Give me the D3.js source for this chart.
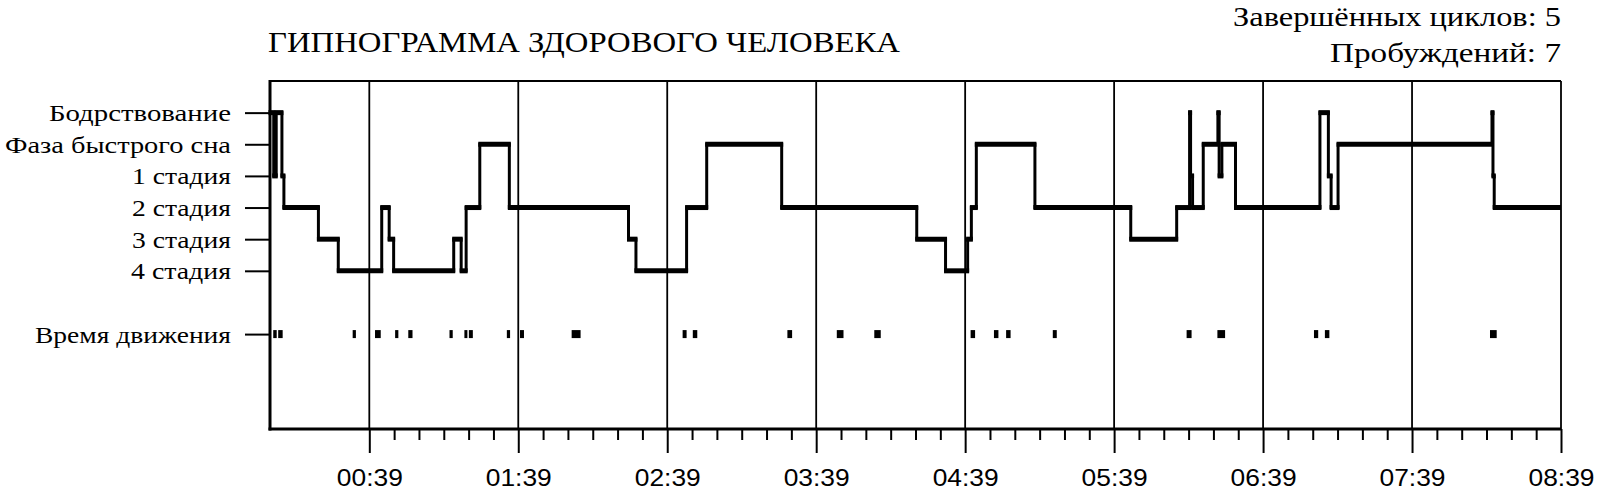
<!DOCTYPE html>
<html><head><meta charset="utf-8">
<script src="https://cdn.jsdelivr.net/npm/d3@7"></script>
<style>html,body{margin:0;padding:0;background:#fff;} svg{display:block}</style>
</head><body>
<svg id="chart" width="1600" height="491"></svg>
<script>
// ---------- DATA ----------
const chartTitle = "ГИПНОГРАММА ЗДОРОВОГО ЧЕЛОВЕКА";
const infoLines = ["Завершённых циклов: 5", "Пробуждений: 7"];
const stageLabels = ["Бодрствование", "Фаза быстрого сна", "1 стадия", "2 стадия", "3 стадия", "4 стадия", "Время движения"];
const stageLevels = [0, 1, 2, 3, 4, 5, 7];
// minutes counted from 23:59
const timeTickMinutes = [40, 100, 160, 220, 280, 340, 400, 460, 520];
const timeTickLabels = ["00:39", "01:39", "02:39", "03:39", "04:39", "05:39", "06:39", "07:39", "08:39"];
const minorTickStep = 10;
const recordEnd = 520;
// hypnogram steps: start minute and stage level (0 wake, 1 REM, 2..5 stages 1..4)
const stepStart = [0, 1.5, 2.5, 4.8, 5.6, 19.5, 27.5, 45, 48, 49.8, 74, 77, 79, 84.5, 96.4,
  144.4, 147.4, 167.8, 175.9, 206.1, 260.5, 272.1, 281, 282.5, 284.5, 308.1, 346.7, 365.2,
  370.4, 370.8, 371.6, 375.9, 381.8, 382.3, 383.4, 388.9, 422.9, 426.3, 427.4, 430.2, 492.2, 492.6, 493.1];
const stepStage = [0, 2, 0, 2, 3, 4, 5, 3, 4, 5, 4, 5, 3, 1, 3,
  4, 5, 3, 1, 3, 4, 5, 4, 3, 1, 3, 4, 3,
  0, 2, 3, 1, 0, 2, 1, 3, 0, 2, 3, 1, 0, 2, 3];
// movement episodes (minutes)
const moveStart = [1.3, 3.3, 33.3, 42.3, 50.4, 55.7, 72.3, 78.3, 80.1, 95.4, 100.7, 121.5, 166.2, 170.3,
  208.4, 228.3, 243.4, 282.2, 291.6, 296.5, 315.3, 369.2, 381.6, 420.5, 424.9, 491.4];
const moveEnd = [2.7, 5.1, 34.6, 44.6, 51.7, 57.4, 73.6, 79.3, 81.7, 96.7, 102.3, 125.1, 167.8, 172.1,
  210.3, 231.0, 246.0, 284.0, 293.4, 298.3, 316.9, 371.2, 384.7, 422.2, 426.7, 494.1];
const movementLevel = 7;

// ---------- LAYOUT ----------
const layout = {
  left: 270, right: 1561, top: 81, bottom: 429,
  yLabelWidths: [182, 226, 99, 99, 99, 100, 196],
  titleWidth: 632, infoWidths: [328, 231]
};

const svg = d3.select("#chart");
const x = d3.scaleLinear().domain([0, recordEnd]).range([layout.left, layout.right]);
const y = d3.scaleLinear().domain([-1, 10]).range([layout.top, layout.bottom]);

// title
svg.append("text").attr("x", 268).attr("y", 52)
  .attr("font-family", "'Liberation Serif', 'Times New Roman', serif").attr("font-size", 30)
  .attr("textLength", layout.titleWidth).attr("lengthAdjust", "spacingAndGlyphs")
  .attr("fill", "#000").text(chartTitle);

// info lines
svg.selectAll("text.info").data(infoLines).join("text").attr("class", "info")
  .attr("x", layout.right).attr("y", (d, i) => 26 + i * 36)
  .attr("text-anchor", "end")
  .attr("font-family", "'Liberation Serif', 'Times New Roman', serif").attr("font-size", 27)
  .attr("textLength", (d, i) => layout.infoWidths[i]).attr("lengthAdjust", "spacingAndGlyphs")
  .attr("fill", "#000").text(d => d);

// vertical grid lines at hour ticks
svg.append("g").selectAll("line").data(timeTickMinutes).join("line")
  .attr("x1", d => x(d)).attr("x2", d => x(d))
  .attr("y1", layout.top).attr("y2", layout.bottom)
  .attr("stroke", "#000").attr("stroke-width", 1.8);

// top border
svg.append("line").attr("x1", layout.left).attr("x2", layout.right)
  .attr("y1", layout.top).attr("y2", layout.top)
  .attr("stroke", "#000").attr("stroke-width", 2);

// bottom axis: major ticks
const xMajor = d3.axisBottom(x).tickValues(timeTickMinutes)
  .tickFormat((d, i) => timeTickLabels[i]).tickSize(24).tickPadding(20);
const gx = svg.append("g").attr("transform", `translate(0,${layout.bottom})`).call(xMajor);
gx.select(".domain").remove();
gx.selectAll(".tick line").attr("stroke", "#000").attr("stroke-width", 2);
gx.selectAll(".tick text").attr("font-family", "'Liberation Sans', Arial, sans-serif")
  .attr("font-size", 24).attr("fill", "#000").attr("dy", 0).attr("y", 57)
  .attr("textLength", 66).attr("lengthAdjust", "spacingAndGlyphs");

// minor ticks
const minorVals = d3.range(timeTickMinutes[0], recordEnd, minorTickStep).filter(v => !timeTickMinutes.includes(v));
const xMinor = d3.axisBottom(x).tickValues(minorVals).tickFormat("").tickSize(11);
const gm = svg.append("g").attr("transform", `translate(0,${layout.bottom})`).call(xMinor);
gm.select(".domain").remove();
gm.selectAll(".tick line").attr("stroke", "#000").attr("stroke-width", 2);

// bottom axis line
svg.append("line").attr("x1", layout.left - 1.5).attr("x2", layout.right)
  .attr("y1", layout.bottom).attr("y2", layout.bottom)
  .attr("stroke", "#000").attr("stroke-width", 3);

// left axis
const yAxis = d3.axisLeft(y).tickValues(stageLevels)
  .tickFormat((d, i) => stageLabels[i]).tickSize(25).tickPadding(14);
const gy = svg.append("g").attr("transform", `translate(${layout.left},0)`).call(yAxis);
gy.select(".domain").remove();
gy.selectAll(".tick line").attr("stroke", "#000").attr("stroke-width", 2);
gy.selectAll(".tick text").attr("font-family", "'Liberation Serif', 'Times New Roman', serif")
  .attr("font-size", 23).attr("fill", "#000").attr("dy", 8)
  .attr("textLength", (d, i) => layout.yLabelWidths[i]).attr("lengthAdjust", "spacingAndGlyphs");

// left border
svg.append("line").attr("x1", layout.left).attr("x2", layout.left)
  .attr("y1", layout.top - 1).attr("y2", layout.bottom + 1.5)
  .attr("stroke", "#000").attr("stroke-width", 3);

// hypnogram
const n = stepStart.length;
const segs = d3.range(n).map(i => ({ t0: stepStart[i], t1: i < n - 1 ? stepStart[i + 1] : recordEnd, s: stepStage[i] }));
const jumps = d3.range(n - 1).map(i => ({ t: stepStart[i + 1], a: stepStage[i], b: stepStage[i + 1] }));
const vw = 3, hw = 5;
svg.append("g").selectAll("line").data(jumps).join("line")
  .attr("x1", d => x(d.t)).attr("x2", d => x(d.t))
  .attr("y1", d => y(d.a)).attr("y2", d => y(d.b))
  .attr("stroke", "#000").attr("stroke-width", vw).attr("stroke-linecap", "square");
svg.append("g").selectAll("line").data(segs).join("line")
  .attr("x1", d => x(d.t0) - vw / 2).attr("x2", d => Math.min(x(d.t1) + vw / 2, layout.right))
  .attr("y1", d => y(d.s)).attr("y2", d => y(d.s))
  .attr("stroke", "#000").attr("stroke-width", hw);

// movement marks
svg.append("g").selectAll("rect").data(d3.range(moveStart.length)).join("rect")
  .attr("x", i => x(moveStart[i]))
  .attr("width", i => Math.max(3, x(moveEnd[i]) - x(moveStart[i])))
  .attr("y", y(movementLevel) - 4).attr("height", 8)
  .attr("fill", "#000");
</script>
</body></html>
